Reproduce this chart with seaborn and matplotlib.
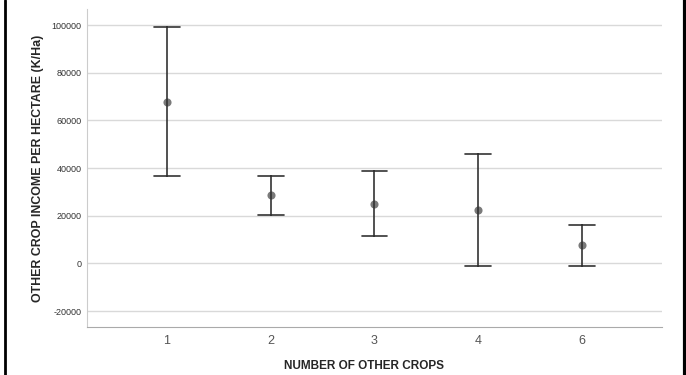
import numpy as np
import pandas as pd
import matplotlib
matplotlib.use("Agg")
import matplotlib.pyplot as plt
import seaborn as sns
from matplotlib.lines import Line2D

sns.set_style("white")
plt.rcParams['font.family'] = ['Liberation Sans', 'DejaVu Sans']
plt.rcParams['axes.unicode_minus'] = False

# number of other crops, mean income and the error bar ends
categories = ["1", "2", "3", "4", "6"]
means = [67900, 28800, 25000, 22400, 7550]
lower = [36500, 20400, 11300, -1100, -1100]
upper = [99300, 36900, 38700, 46000, 16200]

# long table: lower / mean / upper per group, so median = mean, min/max = bar ends
rows = []
for c, lo, m, hi in zip(categories, lower, means, upper):
    for v in (lo, m, hi):
        rows.append({"crops": c, "income": v})
df = pd.DataFrame(rows)

fig = plt.figure(figsize=(6.86, 3.75), dpi=100)
ax = fig.add_axes([0.1268, 0.128, 0.965 - 0.1268, 0.976 - 0.128])

sns.pointplot(data=df, x="crops", y="income", order=categories,
              estimator="median", errorbar=lambda v: (v.min(), v.max()),
              linestyle="none", marker="o", markersize=3.8, color="#7a7a7a",
              capsize=0.25, err_kws={"color": "#333333", "linewidth": 1.2},
              ax=ax)

ax.set_ylim(-26700, 106800)
ax.set_xlim(-0.77, 4.77)
ax.set_yticks(range(-20000, 100001, 20000))
ax.yaxis.grid(True, color="#d9d9d9", linewidth=1.0)
ax.set_axisbelow(True)
for s in ("top", "right"):
    ax.spines[s].set_visible(False)
ax.spines["left"].set_color("#cccccc")
ax.spines["bottom"].set_color("#aaaaaa")
ax.tick_params(axis="y", labelsize=6.5, labelcolor="#333333", length=0, pad=4)
ax.tick_params(axis="x", labelsize=9, labelcolor="#555555", length=0, pad=6)

ax.set_xlabel("NUMBER OF OTHER CROPS", fontsize=8.5, fontweight="bold")
ax.set_ylabel("OTHER CROP INCOME PER HECTARE (K/Ha)", fontsize=8.9,
              fontweight="bold")
ax.xaxis.set_label_coords((364 - 87) / 575, -(360 - 327) / 318)
ax.yaxis.set_label_coords(-(87 - 44) / 575, 0.5)

# black frame edges of the screenshot
fig.add_artist(Line2D([4.5 / 686, 4.5 / 686], [0, 1], color="black", linewidth=2,
                      transform=fig.transFigure))
fig.add_artist(Line2D([684.5 / 686, 684.5 / 686], [0, 1], color="black",
                      linewidth=3, transform=fig.transFigure))

fig.savefig("out.png", dpi=100)
